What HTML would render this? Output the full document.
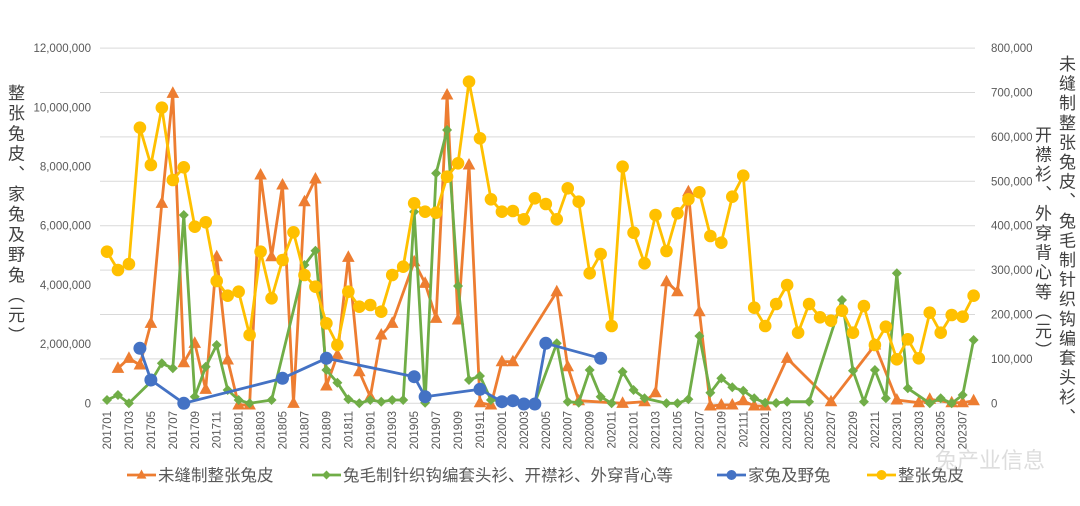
<!DOCTYPE html>
<html><head><meta charset="utf-8"><style>
html,body{margin:0;padding:0;background:#fff;}
body{width:1080px;height:506px;overflow:hidden;position:relative;font-family:"Liberation Sans","Noto Sans CJK SC",sans-serif;}
.vt{position:absolute;writing-mode:vertical-rl;color:#404040;font-size:17px;font-family:"Noto Sans CJK SC",sans-serif;}
</style></head><body>
<svg id="c" width="1080" height="506" xmlns="http://www.w3.org/2000/svg" style="position:absolute;left:0;top:0"></svg>
<div class="vt" style="left:4px;top:84px;letter-spacing:3.2px;">整张兔皮、家兔及野兔（元）</div>
<div class="vt" style="left:1055px;top:55px;letter-spacing:2.6px;">未缝制整张兔皮、兔毛制针织钩编套头衫、</div>
<div class="vt" style="left:1031px;top:126px;letter-spacing:2.6px;">开襟衫、外穿背心等（元）</div>
<script>
const svg=document.getElementById('c');let h='';
const X=i=>107+10.97*i;
for(let k=0;k<=8;k++){const y=403.3-k*44.4;h+=`<line x1="100" x2="975" y1="${y}" y2="${y}" stroke="#d9d9d9" stroke-width="1"/>`;}
const L=['0','2,000,000','4,000,000','6,000,000','8,000,000','10,000,000','12,000,000'];
L.forEach((t,k)=>{const y=403.3-k*59.2;h+=`<text x="91" y="${y+4}" text-anchor="end" font-size="11.5" fill="#595959">${t}</text>`;});
const R=['0','100,000','200,000','300,000','400,000','500,000','600,000','700,000','800,000'];
R.forEach((t,k)=>{const y=403.3-k*44.4;h+=`<text x="991" y="${y+4}" font-size="11.5" fill="#595959">${t}</text>`;});
for(let i=0;i<80;i+=2){const yr=2017+Math.floor(i/12),m=i%12+1;const t=yr+(m<10?'0':'')+m;const x=X(i)+4;
h+=`<text transform="translate(${x},411) rotate(-90)" text-anchor="end" font-size="11.5" fill="#595959">${t}</text>`;}
const Y=[251.7,270,264,127.7,165,107.7,180,167.3,226.7,222.3,281,295.7,291.7,335,251.7,298.3,260,232.3,275,286.7,323.3,345,291.7,306.7,305,311.7,275,266.7,203.3,211.7,212.7,176.7,163.3,81.7,138.3,199.3,211.7,211,219.3,198.3,204,219.3,188.3,201.7,273.3,254,326,166.7,232.7,263.3,215,251,213.3,199.3,192.3,236,242.7,196.7,175.7,307.7,326,304,285,332.7,304,317.3,320.7,310.7,332.7,306,345,326.7,359.3,339.3,358.3,312.7,332.7,315,316.7,295.7];
const yel=Y.map((v,i)=>[i,v]);
const org=[[1,368.3],[2,358.3],[3,365],[4,323.3],[5,203.3],[6,93.3],[7,362.7],[8,343.3],[9,389.3],[10,256.7],[11,360],[12,405],[13,405],[14,175],[15,256.7],[16,185],[17,403.3],[18,201.7],[19,179],[20,386],[21,355],[22,257.3],[23,371.7],[24,396.7],[25,335],[26,323.3],[28,261.7],[29,283.3],[30,318.3],[31,95],[32,320],[33,165],[34,402.7],[35,405],[36,361.7],[37,361.7],[41,291.7],[42,366.7],[43,400.7],[47,403.3],[49,401.7],[50,392.7],[51,281.7],[52,291.7],[53,191.7],[54,311.7],[55,406],[56,405],[57,405],[58,400.7],[59,406],[60,406],[62,358.3],[66,401.7],[70,345],[72,400],[74,402.7],[75,399.3],[77,402.7],[78,402.7],[79,400.7]];
const grn=[[0,400],[1,395],[2,403.3],[4,381.7],[5,363.3],[6,368.3],[7,215],[8,396.7],[9,366.7],[10,345],[11,390],[12,400],[13,403.3],[15,400],[18,265],[19,250.7],[20,370],[21,382.7],[22,399.3],[23,403.3],[24,400],[25,401.7],[26,400],[27,400],[28,211.7],[29,402.7],[30,173.3],[31,130],[32,286],[33,380],[34,376],[35,400],[39,403],[41,343.3],[42,401.7],[43,402.7],[44,370],[45,396.7],[46,403.3],[47,371.7],[48,390],[49,398.3],[51,403.3],[52,403.3],[53,399.3],[54,336],[55,392.7],[56,378.3],[57,387.3],[58,390.7],[59,398.3],[60,402.7],[61,403],[62,401.7],[64,401.7],[67,300],[68,370.7],[69,401.7],[70,370],[71,398.3],[72,273.3],[73,388.3],[75,403.3],[76,398.3],[77,403.3],[78,395],[79,340]];
const blu=[[3,348.3],[4,380],[7,403.3],[16,378.3],[20,358.3],[28,376.7],[29,396.7],[34,389.3],[36,401.7],[37,400.7],[38,404],[39,404],[40,343.3],[45,358.3]];
function line(d,c){return `<polyline fill="none" stroke="${c}" stroke-width="2.8" stroke-linejoin="round" points="${d.map(p=>X(p[0]).toFixed(1)+','+p[1]).join(' ')}"/>`;}
function tri(x,y,c,s){return `<polygon points="${x},${y-s} ${x-s*0.9},${y+s*0.65} ${x+s*0.9},${y+s*0.65}" fill="${c}"/>`;}
function dia(x,y,c,s){return `<polygon points="${x},${y-s} ${x+s},${y} ${x},${y+s} ${x-s},${y}" fill="${c}"/>`;}
const O='#ED7D31',G='#70AD47',B='#4472C4',Yc='#FFC000';
h+=line(org,O);org.forEach(p=>h+=tri(X(p[0]),p[1],O,7));
h+=line(grn,G);grn.forEach(p=>h+=dia(X(p[0]),p[1],G,5));
h+=line(blu,B);blu.forEach(p=>h+=`<circle cx="${X(p[0])}" cy="${p[1]}" r="6.5" fill="${B}"/>`);
h+=line(yel,Yc);yel.forEach(p=>h+=`<circle cx="${X(p[0])}" cy="${p[1]}" r="6.3" fill="${Yc}"/>`);
const leg=[[127,O,'未缝制整张兔皮','t'],[312,G,'兔毛制针织钩编套头衫、开襟衫、外穿背心等','d'],[717,B,'家兔及野兔','c'],[867,Yc,'整张兔皮','c']];
leg.forEach(([x,c,t,k])=>{const y=475;h+=`<line x1="${x}" x2="${x+29}" y1="${y}" y2="${y}" stroke="${c}" stroke-width="2.8"/>`;
if(k=='t')h+=tri(x+14.5,y,c,5.5);else if(k=='d')h+=dia(x+14.5,y,c,4.5);else h+=`<circle cx="${x+14.5}" cy="${y}" r="5" fill="${c}"/>`;
h+=`<text x="${x+31}" y="${y+6}" font-size="16.5" fill="#595959" font-family="Noto Sans CJK SC,sans-serif">${t}</text>`;});
h+=`<text x="935" y="468" font-size="22" fill="#cfcfcf" fill-opacity="0.7" font-family="Noto Sans CJK SC,sans-serif">兔产业信息</text>`;
svg.innerHTML=h;
</script>
</body></html>
